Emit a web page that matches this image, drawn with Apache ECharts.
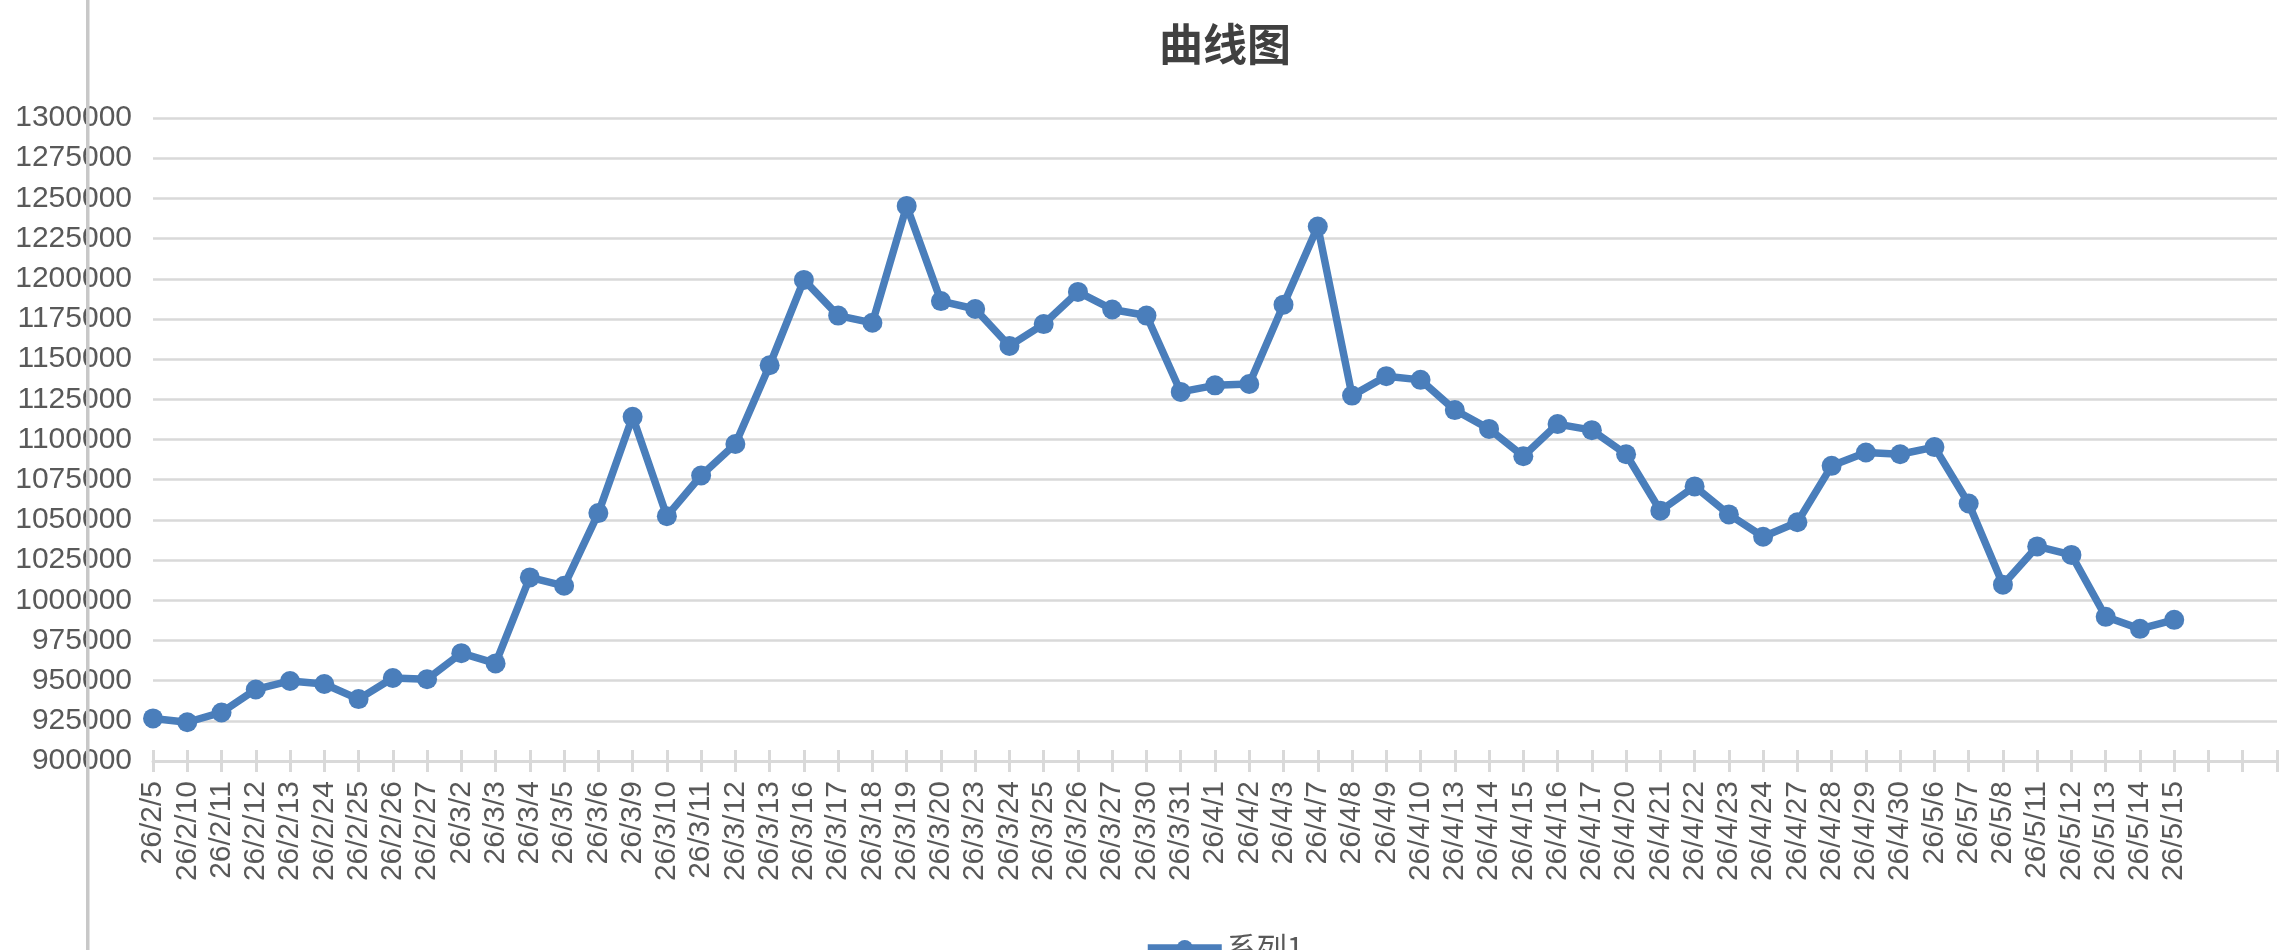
<!DOCTYPE html>
<html>
<head>
<meta charset="utf-8">
<script src="https://cdn.jsdelivr.net/npm/echarts@6/dist/echarts.min.js"></script>
<style>html,body{margin:0;padding:0;background:#fff;}#c{width:2280px;height:950px;}</style>
</head>
<body>
<div id="c"></div>
<script>
const categories = ['26/2/5','26/2/10','26/2/11','26/2/12','26/2/13','26/2/24','26/2/25','26/2/26','26/2/27',
'26/3/2','26/3/3','26/3/4','26/3/5','26/3/6','26/3/9','26/3/10','26/3/11','26/3/12','26/3/13','26/3/16','26/3/17','26/3/18','26/3/19','26/3/20','26/3/23','26/3/24','26/3/25','26/3/26','26/3/27','26/3/30','26/3/31',
'26/4/1','26/4/2','26/4/3','26/4/7','26/4/8','26/4/9','26/4/10','26/4/13','26/4/14','26/4/15','26/4/16','26/4/17','26/4/20','26/4/21','26/4/22','26/4/23','26/4/24','26/4/27','26/4/28','26/4/29','26/4/30',
'26/5/6','26/5/7','26/5/8','26/5/11','26/5/12','26/5/13','26/5/14','26/5/15'];
const emptyCategories = ['', '', ''];
const seriesName = '系列1';
const values = [926500, 924100, 930200, 944500, 949800, 947900, 938500, 951600, 950900,
967100, 960700, 1014200, 1009000, 1054200, 1114100, 1052300, 1077600, 1097200, 1146200, 1199300, 1177100, 1172600, 1245300, 1186100, 1181200, 1158200, 1171800, 1191800, 1180900, 1177100, 1129600,
1133700, 1134500, 1183900, 1232500, 1127300, 1139400, 1137100, 1118300, 1106600, 1089600, 1109600, 1105800, 1090800, 1055700, 1070800, 1053400, 1039500, 1048500, 1083600, 1091900, 1090800,
1095300, 1060200, 1009700, 1033500, 1028200, 989700, 982200, 987800];
const yMin = 900000, yMax = 1300000, yStep = 25000;
const titleText = '曲线图';

const allCats = categories.concat(emptyCategories);
const chart = echarts.init(document.getElementById('c'));
const gridColor = '#d9d9d9';
const textColor = '#595959';
const lineColor = '#4A7EBB';
chart.setOption({
  backgroundColor: '#ffffff',
  animation: false,
  title: {
    text: titleText, left: 1154, top: 17,
    textStyle: { fontSize: 44, fontWeight: 'bold', color: '#404040', fontFamily: 'Noto Sans CJK SC' }
  },
  legend: {
    data: [seriesName], left: 1139, top: 928,
    itemWidth: 74, itemHeight: 20, itemGap: 10,
    lineStyle: { width: 7.5, color: lineColor },
    itemStyle: { color: lineColor },
    textStyle: { fontSize: 30, color: textColor, fontFamily: 'Noto Sans CJK SC' }
  },
  grid: { left: 153, right: 3, top: 118, bottom: 189, containLabel: false },
  xAxis: [{
    type: 'category', data: allCats, boundaryGap: false,
    axisLine: { onZero: false, lineStyle: { color: gridColor, width: 3 } },
    axisTick: { interval: 0, length: 11, lineStyle: { color: gridColor, width: 3 } },
    axisLabel: { interval: 0, rotate: 90, margin: 20, fontSize: 30, color: textColor, fontFamily: 'Liberation Sans' },
    splitLine: { show: false }
  }, {
    type: 'category', data: allCats, boundaryGap: false, position: 'bottom', offset: 0,
    axisLine: { show: false, onZero: false },
    axisTick: { interval: 0, inside: true, length: 11, lineStyle: { color: gridColor, width: 3 } },
    axisLabel: { show: false }, splitLine: { show: false }
  }],
  yAxis: {
    type: 'value', min: yMin, max: yMax, interval: yStep,
    axisLine: { show: false }, axisTick: { show: false },
    axisLabel: { fontSize: 30, margin: 21, color: textColor, fontFamily: 'Liberation Sans',
      formatter: function (v) { return String(v); } },
    splitLine: { lineStyle: { color: gridColor, width: 2.5 } }
  },
  graphic: [{
    type: 'rect', left: 86, top: 0, z: 100,
    shape: { width: 3.5, height: 950 },
    style: { fill: '#c8c8c8' }
  }],
  series: [{
    name: seriesName, type: 'line', data: values, xAxisIndex: 0,
    symbol: 'circle', symbolSize: 20,
    lineStyle: { color: lineColor, width: 7.5 },
    itemStyle: { color: lineColor }
  }]
});
</script>
</body>
</html>
